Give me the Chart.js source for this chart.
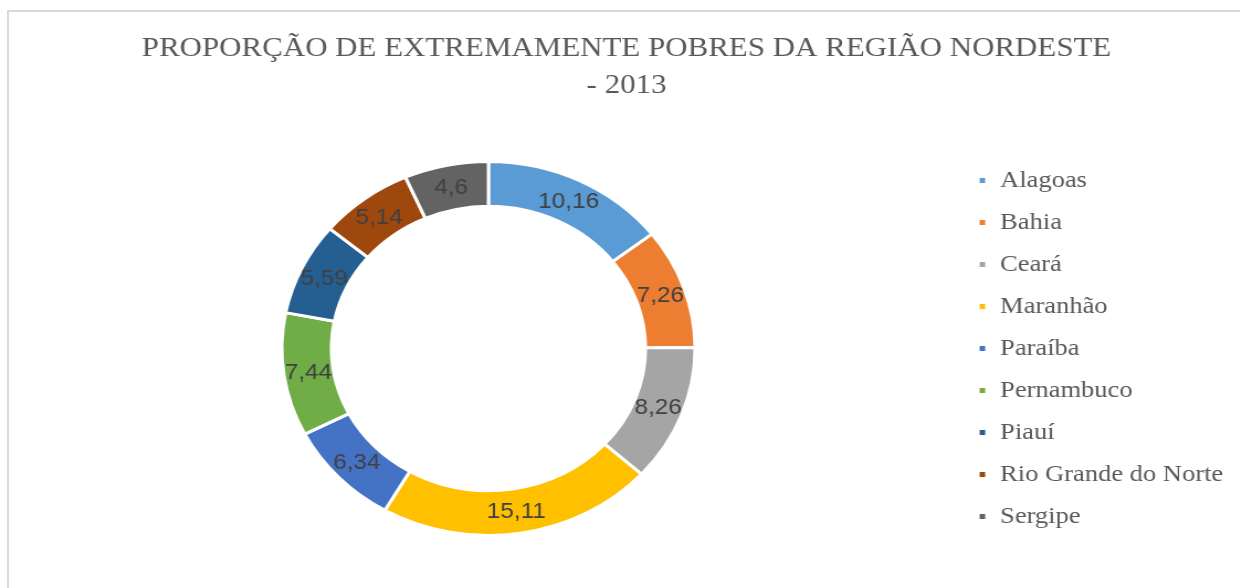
<!DOCTYPE html>
<html lang="pt-BR">
<head>
<meta charset="utf-8">
<title>Extremamente pobres - Nordeste 2013</title>
<script src="https://cdn.jsdelivr.net/npm/chart.js@4/dist/chart.umd.min.js"></script>
<style>
  html, body { margin: 0; padding: 0; background: #fff; overflow: hidden; }
  #frame {
    position: absolute; left: 7px; top: 10px; width: 1260px; height: 600px;
    border-top: 2px solid #d9d9d9; border-left: 2px solid #d9d9d9;
  }
  /* o original está esticado na horizontal */
  #wrap {
    position: absolute; left: 0; top: 0; width: 1122px; height: 588px;
    transform-origin: 0 0; transform: scaleX(1.105);
  }
</style>
</head>
<body>
<div id="frame"></div>
<div id="wrap"><canvas id="chart" width="1122" height="588"></canvas></div>
<script>
  // Dados
  const estados = ['Alagoas', 'Bahia', 'Ceará', 'Maranhão', 'Paraíba', 'Pernambuco', 'Piauí', 'Rio Grande do Norte', 'Sergipe'];
  const proporcao = [10.16, 7.26, 8.26, 15.11, 6.34, 7.44, 5.59, 5.14, 4.6];
  const cores = ['#5B9BD5', '#ED7D31', '#A5A5A5', '#FFC000', '#4472C4', '#70AD47', '#255E91', '#9E480E', '#636363'];
  const titulo = ['PROPORÇÃO DE EXTREMAMENTE POBRES DA REGIÃO NORDESTE', '- 2013'];

  const serif = '"Liberation Serif", "Times New Roman", serif';

  // Rótulos dentro das fatias (sem plugin externo)
  const rotulos = {
    id: 'rotulos',
    afterDatasetsDraw(chart) {
      const ctx = chart.ctx;
      const meta = chart.getDatasetMeta(0);
      ctx.save();
      ctx.font = '22px "Liberation Sans", Arial, sans-serif';
      ctx.fillStyle = '#404040';
      ctx.textAlign = 'center';
      ctx.textBaseline = 'middle';
      meta.data.forEach((arc, i) => {
        const p = arc.tooltipPosition();
        ctx.fillText(String(proporcao[i]).replace('.', ','), p.x, p.y + 1);
      });
      ctx.restore();
    }
  };

  new Chart(document.getElementById('chart'), {
    type: 'doughnut',
    data: {
      labels: estados,
      datasets: [{
        data: proporcao,
        backgroundColor: cores,
        borderColor: '#ffffff',
        borderWidth: 3
      }]
    },
    options: {
      responsive: false,
      animation: false,
      radius: 187,
      cutout: '76%',
      layout: { padding: { left: 17, right: 5, top: 0, bottom: 13 } },
      plugins: {
        title: {
          display: true,
          text: titulo,
          color: '#595959',
          font: { family: serif, size: 28, weight: 'normal', lineHeight: 1.32 },
          padding: { top: 30, bottom: 18 }
        },
        legend: {
          position: 'right',
          fullSize: false,
          labels: {
            color: '#595959',
            boxWidth: 8,
            boxHeight: 8,
            padding: 18,
            font: { family: serif, size: 24 }
          }
        },
        tooltip: { enabled: false }
      }
    },
    plugins: [rotulos]
  });
</script>
</body>
</html>
